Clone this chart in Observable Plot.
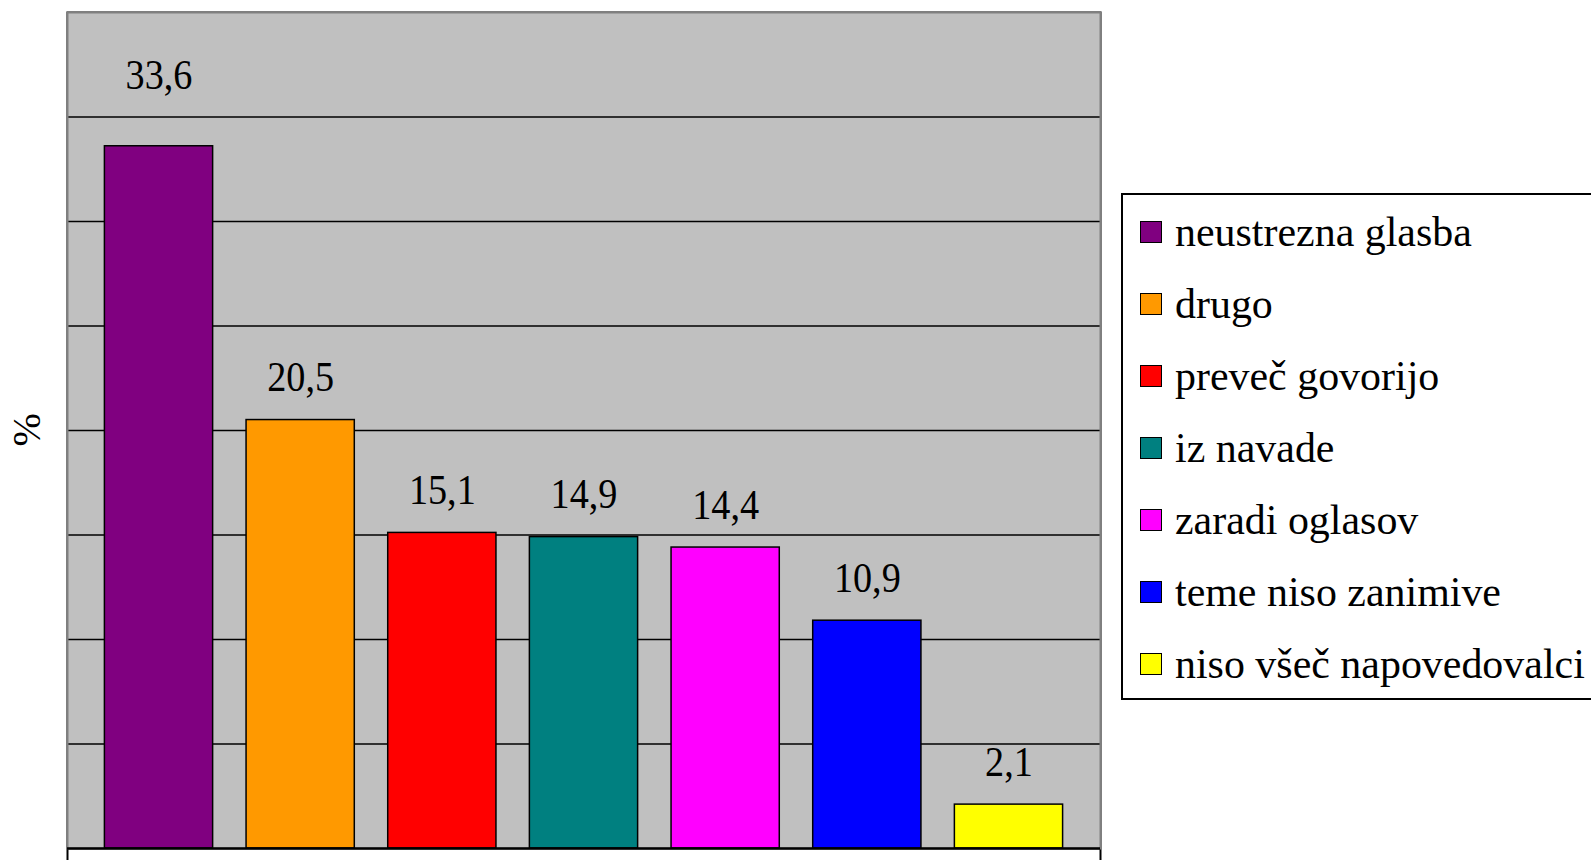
<!DOCTYPE html>
<html><head><meta charset="utf-8">
<script src="https://cdn.jsdelivr.net/npm/d3@7"></script>
<script src="https://cdn.jsdelivr.net/npm/@observablehq/plot@0.6"></script>
<style>
html,body{margin:0;padding:0;background:#fff;overflow:hidden;width:1591px;height:860px}
#chart{position:absolute;left:0;top:0}
#legend{position:absolute;left:1121px;top:193px;width:600px;height:502px;border:2px solid #000;background:#fff;font-family:"Liberation Serif",serif;font-size:43px;padding-top:1px;box-sizing:content-box}
.row{height:72px;display:flex;align-items:center;padding-left:17px;white-space:nowrap}
.sw{width:20px;height:20px;border:1.5px solid #000;flex:none}
.lt{margin-left:13px;position:relative;top:-1px;color:#000;line-height:1;transform:scaleX(0.975);transform-origin:left center}
</style></head><body>
<div id="chart"></div><div id="legend"></div>
<script>
const categories = ["neustrezna glasba","drugo","preveč govorijo","iz navade","zaradi oglasov","teme niso zanimive","niso všeč napovedovalci"];
const values = [33.6, 20.5, 15.1, 14.9, 14.4, 10.9, 2.1];
const colors = ["#800080","#FF9900","#FF0000","#008080","#FF00FF","#0000FF","#FFFF00"];
const gridTicks = [5, 10, 15, 20, 25, 30, 35];
const yDomain = [0, 40];
const axisLabel = "%";

const labels = values.map(v => String(v).replace(".", ","));
const data = categories.map((c, i) => ({category: c, value: values[i], label: labels[i]}));
const maxV = d3.max(values);

const chart = Plot.plot({
  width: 1591, height: 860,
  marginLeft: 67, marginRight: 491, marginTop: 12, marginBottom: 12,
  style: {fontFamily: "Liberation Serif, serif", fontSize: "38px", background: "transparent", color: "#000"},
  x: {domain: categories, paddingInner: 0.236, paddingOuter: 0.264, round: false, axis: null},
  y: {domain: yDomain, axis: null},
  color: {domain: categories, range: colors},
  marks: [
    Plot.frame({stroke: "#000", strokeWidth: 2, insetBottom: -16}),
    Plot.frame({fill: "#c0c0c0"}),
    Plot.ruleY(gridTicks, {stroke: "#000", strokeWidth: 1.5}),
    Plot.frame({stroke: "#808080", strokeWidth: 2}),
    Plot.barY(data, {x: "category", y: "value", fill: "category", stroke: "#000", strokeWidth: 1.5}),
    Plot.ruleY([0], {stroke: "#000", strokeWidth: 2.5}),
    Plot.text(data.filter(d => d.value !== maxV), {x: "category", y: "value", text: "label", lineAnchor: "bottom", dy: -29, fontSize: 42, fill: "#000"}),
    Plot.text(data.filter(d => d.value === maxV), {x: "category", y: "value", text: "label", lineAnchor: "bottom", dy: -57, fontSize: 42, fill: "#000"}),
    Plot.text([axisLabel], {frameAnchor: "left", rotate: -90, dx: -40, dy: 16, lineAnchor: "middle", fontSize: 40, fill: "#000"})
  ]
});
document.getElementById("chart").appendChild(chart);

// horizontally condense value labels like the original rendering
const s = 0.91;
const textGroups = chart.querySelectorAll('g[aria-label="text"]');
[textGroups[0], textGroups[1]].forEach(g => g && g.querySelectorAll("text").forEach(t => {
  if (t.hasAttribute("x")) t.setAttribute("x", (+t.getAttribute("x")) / s);
  const tr = t.getAttribute("transform") || "";
  t.setAttribute("transform", (tr + ` scale(${s},1)`).trim());
}));

const legend = document.getElementById("legend");
categories.forEach((c, i) => {
  const row = document.createElement("div");
  row.className = "row";
  const sw = document.createElement("div");
  sw.className = "sw";
  sw.style.background = colors[i];
  const lt = document.createElement("span");
  lt.className = "lt";
  lt.textContent = c;
  row.appendChild(sw); row.appendChild(lt);
  legend.appendChild(row);
});
</script></body></html>
